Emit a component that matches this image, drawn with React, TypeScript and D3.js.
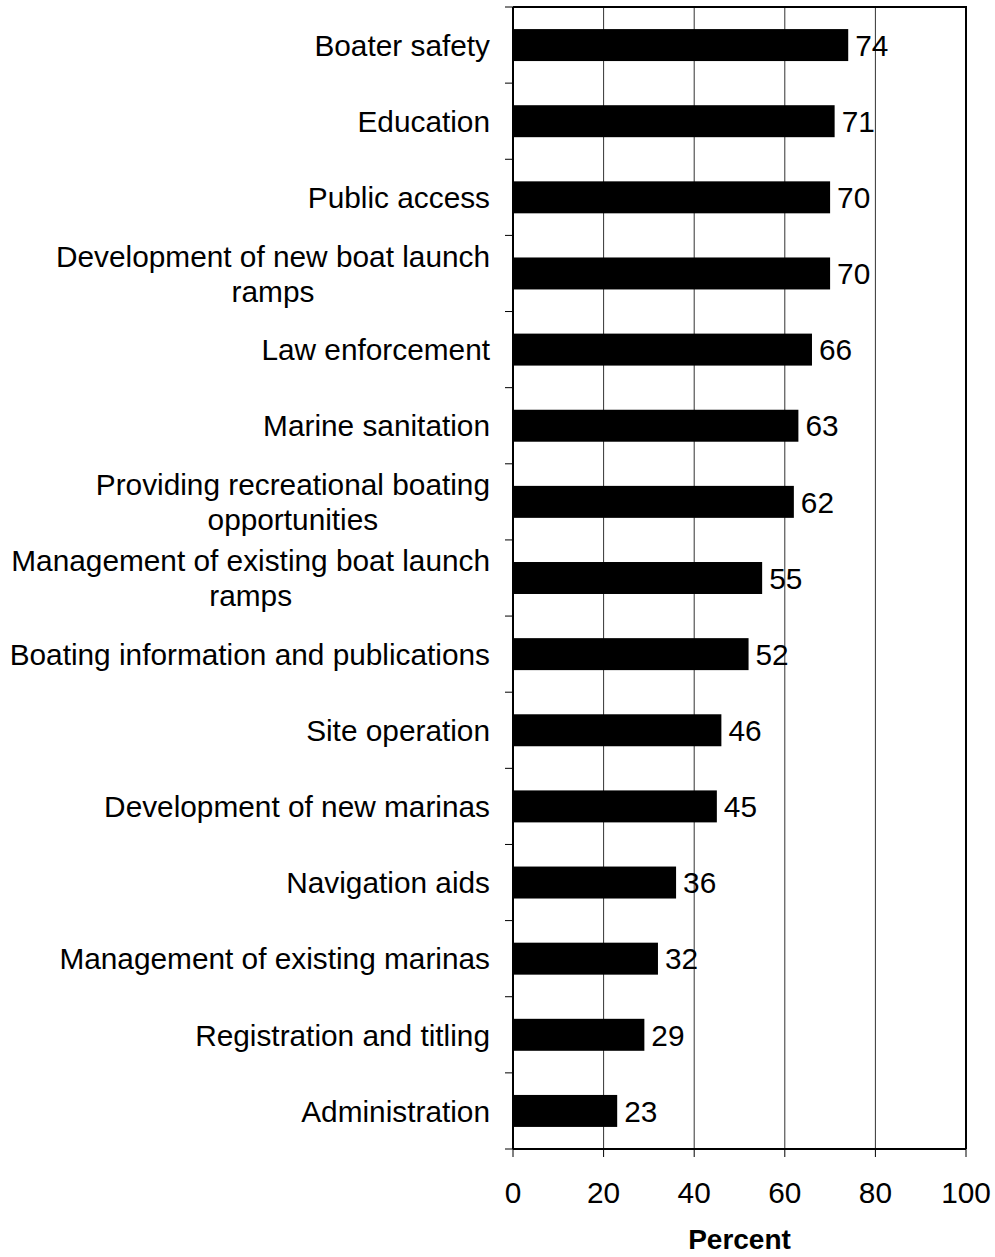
import React, { useEffect, useRef } from 'react';
import * as d3 from 'd3';

const categories: string[][] = [
  ['Boater safety'],
  ['Education'],
  ['Public access'],
  ['Development of new boat launch', 'ramps'],
  ['Law enforcement'],
  ['Marine sanitation'],
  ['Providing recreational boating', 'opportunities'],
  ['Management of existing boat launch', 'ramps'],
  ['Boating information and publications'],
  ['Site operation'],
  ['Development of new marinas'],
  ['Navigation aids'],
  ['Management of existing marinas'],
  ['Registration and titling'],
  ['Administration'],
];

const values = [74, 71, 70, 70, 66, 63, 62, 55, 52, 46, 45, 36, 32, 29, 23];

const xTicks = [0, 20, 40, 60, 80, 100];

const W = 995;
const H = 1257;
const FONT = 'Arial, "Liberation Sans", sans-serif';
const FS = 29.8;

export default function App() {
  const svgRef = useRef<SVGSVGElement>(null);

  useEffect(() => {
    document.body.style.margin = '0';
    if (!svgRef.current) return;
    const svg = d3.select(svgRef.current);
    svg.selectAll('*').remove();

    const margin = { top: 7, right: 29, bottom: 108, left: 513 };
    const innerW = W - margin.left - margin.right;
    const innerH = H - margin.top - margin.bottom;

    const g = svg
      .append('g')
      .attr('transform', `translate(${margin.left},${margin.top})`);

    const x = d3.scaleLinear().domain([0, 100]).range([0, innerW]);
    const keys = categories.map((_, i) => String(i));
    const y = d3.scaleBand().domain(keys).range([0, innerH]).paddingInner(0.58).paddingOuter(0.29);
    const band = innerH / categories.length;

    // gridlines
    g.selectAll('.grid')
      .data(xTicks.filter((t) => t > 0 && t < 100))
      .enter()
      .append('line')
      .attr('x1', (d) => x(d))
      .attr('x2', (d) => x(d))
      .attr('y1', 0)
      .attr('y2', innerH)
      .attr('stroke', '#333')
      .attr('stroke-width', 1);

    // bars
    g.selectAll('.bar')
      .data(values)
      .enter()
      .append('rect')
      .attr('x', x(0))
      .attr('y', (_, i) => y(String(i)) || 0)
      .attr('width', (d) => x(d) - x(0))
      .attr('height', y.bandwidth())
      .attr('fill', '#000');

    // value labels
    g.selectAll('.val')
      .data(values)
      .enter()
      .append('text')
      .attr('x', (d) => x(d) + 7)
      .attr('y', (_, i) => (y(String(i)) || 0) + y.bandwidth() / 2)
      .attr('dy', '0.36em')
      .attr('font-family', FONT)
      .attr('font-size', FS)
      .attr('fill', '#000')
      .text((d) => d);

    // frame: top + right
    g.append('path')
      .attr('d', `M0,0H${innerW}V${innerH}`)
      .attr('fill', 'none')
      .attr('stroke', '#000')
      .attr('stroke-width', 2);

    // y axis line and ticks
    g.append('line')
      .attr('x1', 0).attr('x2', 0).attr('y1', 0).attr('y2', innerH)
      .attr('stroke', '#000').attr('stroke-width', 2);
    g.selectAll('.ytick')
      .data(d3.range(categories.length + 1))
      .enter()
      .append('line')
      .attr('x1', -8).attr('x2', 0)
      .attr('y1', (i) => i * band).attr('y2', (i) => i * band)
      .attr('stroke', '#000').attr('stroke-width', 1);

    // category labels
    const lineH = 35;
    categories.forEach((lines, i) => {
      const cy = (y(String(i)) || 0) + y.bandwidth() / 2;
      const t = g.append('text')
        .attr('font-family', FONT)
        .attr('font-size', FS)
        .attr('fill', '#000')
        .attr('text-anchor', 'end');
      if (lines.length === 1) {
        t.append('tspan').attr('x', -23).attr('y', cy).attr('dy', '0.36em').text(lines[0]);
      } else {
        t.attr('text-anchor', 'middle');
        const tmp = g.append('text')
          .attr('font-family', FONT).attr('font-size', FS).text(lines[0]);
        const w = (tmp.node() as SVGTextElement).getComputedTextLength();
        tmp.remove();
        const cx = -23 - w / 2;
        lines.forEach((ln, k) => {
          t.append('tspan')
            .attr('x', cx)
            .attr('y', cy + (k - (lines.length - 1) / 2) * lineH)
            .attr('dy', '0.36em')
            .text(ln);
        });
      }
    });

    // x axis
    g.append('line')
      .attr('x1', 0).attr('x2', innerW).attr('y1', innerH).attr('y2', innerH)
      .attr('stroke', '#000').attr('stroke-width', 2);
    g.selectAll('.xtick')
      .data(xTicks)
      .enter()
      .append('line')
      .attr('x1', (d) => x(d)).attr('x2', (d) => x(d))
      .attr('y1', innerH).attr('y2', innerH + 8)
      .attr('stroke', '#000').attr('stroke-width', 1);
    g.selectAll('.xlab')
      .data(xTicks)
      .enter()
      .append('text')
      .attr('x', (d) => x(d))
      .attr('y', innerH + 43)
      .attr('dy', '0.36em')
      .attr('text-anchor', 'middle')
      .attr('font-family', FONT)
      .attr('font-size', FS)
      .attr('fill', '#000')
      .text((d) => d);

    // axis title
    g.append('text')
      .attr('x', x(50))
      .attr('y', innerH + 90)
      .attr('dy', '0.36em')
      .attr('text-anchor', 'middle')
      .attr('font-family', FONT)
      .attr('font-size', 28)
      .attr('font-weight', 'bold')
      .attr('fill', '#000')
      .text('Percent');
  }, []);

  return <svg ref={svgRef} width={W} height={H} style={{ display: 'block', background: '#fff' }} />;
}
